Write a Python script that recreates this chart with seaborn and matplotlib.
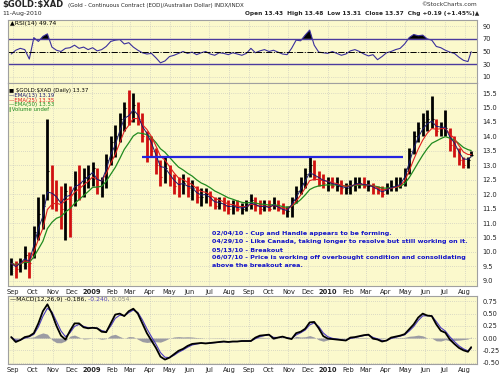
import numpy as np
import pandas as pd
import matplotlib
matplotlib.use("Agg")
import matplotlib.pyplot as plt
import matplotlib.dates as mdates
import seaborn as sns

# --- weekly data (week ending dates, last bar = 11-Aug-2010) ---
week_end = pd.date_range("2008-08-29", periods=103, freq="W-FRI")
week_end = week_end[:-1].append(pd.DatetimeIndex(["2010-08-11"]))

highs = [9.8, 9.7, 9.8, 10.2, 10.0, 10.9, 11.9, 12.0, 14.6, 13.0,
         12.5, 12.3, 12.4, 12.3, 12.8, 13.0, 12.9, 13.0, 13.1, 12.9,
         12.6, 13.4, 14.0, 14.4, 14.8, 15.2, 15.6, 15.5, 15.2, 14.8,
         14.2, 14.0, 13.6, 13.2, 13.3, 13.0, 12.7, 12.6, 12.7, 12.6,
         12.5, 12.3, 12.2, 12.2, 12.1, 11.9, 11.9, 11.9, 11.8, 11.8,
         11.8, 11.7, 11.8, 12.0, 11.9, 11.8, 11.8, 11.8, 11.9, 11.8,
         11.7, 11.6, 11.9, 12.3, 12.6, 12.9, 13.3, 13.2, 12.8, 12.7,
         12.6, 12.6, 12.6, 12.5, 12.4, 12.5, 12.6, 12.6, 12.6, 12.5,
         12.4, 12.3, 12.3, 12.4, 12.5, 12.6, 12.6, 12.9, 13.6, 14.2,
         14.5, 14.8, 14.9, 15.4, 14.6, 14.5, 14.9, 14.3, 14.0, 13.6,
         13.3, 13.3, 13.48]
lows = [9.2, 9.1, 9.3, 9.4, 9.1, 9.8, 10.4, 10.8, 11.8, 11.5,
        11.4, 10.8, 10.4, 10.5, 11.6, 11.8, 11.9, 12.2, 12.3, 12.0,
        11.9, 12.2, 13.0, 13.3, 13.8, 14.2, 14.4, 14.5, 14.4, 13.8,
        13.1, 13.3, 12.7, 12.3, 12.4, 12.3, 12.0, 11.9, 12.0, 11.9,
        11.8, 11.7, 11.6, 11.7, 11.6, 11.5, 11.5, 11.4, 11.3, 11.3,
        11.4, 11.3, 11.4, 11.5, 11.4, 11.3, 11.4, 11.4, 11.5, 11.4,
        11.3, 11.2, 11.2, 11.7, 12.0, 12.2, 12.6, 12.5, 12.3, 12.2,
        12.1, 12.2, 12.1, 12.0, 12.0, 12.0, 12.1, 12.2, 12.2, 12.1,
        12.0, 12.0, 11.9, 12.0, 12.1, 12.1, 12.2, 12.3, 12.7, 13.4,
        13.8, 14.0, 14.2, 14.3, 14.0, 14.0, 14.0, 13.5, 13.3, 13.0,
        12.9, 12.9, 13.31]
closes = [9.6, 9.4, 9.7, 9.9, 9.6, 10.7, 11.3, 11.6, 12.8, 12.0,
          11.8, 11.5, 12.1, 12.0, 12.5, 12.4, 12.6, 12.7, 12.9, 12.3,
          12.4, 13.2, 13.8, 14.0, 14.6, 15.0, 14.8, 15.1, 14.6, 14.0,
          13.9, 13.5, 13.0, 12.6, 12.9, 12.5, 12.3, 12.2, 12.4, 12.2,
          12.2, 11.9, 11.9, 12.0, 11.8, 11.6, 11.7, 11.6, 11.5, 11.6,
          11.5, 11.5, 11.6, 11.8, 11.6, 11.5, 11.6, 11.5, 11.7, 11.5,
          11.4, 11.4, 11.8, 12.1, 12.4, 12.7, 13.0, 12.6, 12.5, 12.4,
          12.4, 12.3, 12.3, 12.2, 12.2, 12.3, 12.4, 12.4, 12.3, 12.3,
          12.2, 12.1, 12.0, 12.2, 12.3, 12.3, 12.4, 12.8, 13.5, 14.0,
          14.3, 14.5, 14.6, 14.6, 14.2, 14.3, 14.3, 13.7, 13.6, 13.2,
          13.0, 13.2, 13.37]

rsi_values = [46, 52, 55, 53, 38, 72, 66, 74, 78, 57,
              52, 50, 55, 56, 60, 55, 57, 53, 56, 51,
              53, 58, 66, 68, 69, 62, 64, 57, 52, 48,
              46, 47, 40, 32, 35, 42, 44, 47, 50, 47,
              49, 45, 48, 50, 46, 44, 48, 47, 45, 48,
              46, 44, 47, 55, 48, 51, 53, 50, 52, 49,
              46, 45, 55, 68, 67, 76, 84, 60, 49, 48,
              47, 50, 47, 44, 46, 51, 53, 50, 46, 43,
              45, 37, 42, 48, 50, 53, 55, 62, 72, 77,
              75, 76, 70, 68, 58, 56, 52, 49, 47, 41,
              36, 34, 49.74]

macd_values = [0.02, -0.08, -0.04, 0.02, 0.04, 0.10, 0.30, 0.55, 0.69, 0.50,
               0.25, 0.05, -0.03, 0.15, 0.30, 0.30, 0.22, 0.20, 0.21, 0.20,
               0.13, 0.12, 0.30, 0.48, 0.50, 0.45, 0.55, 0.60, 0.50, 0.30,
               0.10, -0.05, -0.20, -0.38, -0.44, -0.40, -0.33, -0.26, -0.22, -0.16,
               -0.12, -0.11, -0.10, -0.11, -0.10, -0.09, -0.08, -0.07, -0.08, -0.07,
               -0.07, -0.06, -0.06, -0.06, 0.01, 0.05, 0.06, 0.07, -0.01, 0.01,
               0.03, 0.00, -0.02, 0.10, 0.13, 0.19, 0.32, 0.33, 0.20, 0.04,
               -0.01, -0.02, -0.03, -0.04, -0.05, 0.01, 0.02, 0.04, 0.06, 0.07,
               -0.01, -0.03, -0.07, -0.05, 0.01, 0.03, 0.05, 0.08, 0.18, 0.28,
               0.42, 0.50, 0.46, 0.45, 0.28, 0.15, 0.11, -0.03, -0.12, -0.20,
               -0.25, -0.28, -0.186]

breakout_level = 13.28
breakout_start = "2009-03-20"
breakout_end = "2010-04-28"

notes = ["02/04/10 - Cup and Handle appears to be forming.",
         "04/29/10 - Like Canada, taking longer to resolve but still working on it.",
         "05/13/10 - Breakout",
         "06/07/10 - Price is working off overbought condition and consolidating",
         "above the breakout area."]

df = pd.DataFrame({"date": week_end, "high": highs, "low": lows,
                   "close": closes, "rsi": rsi_values, "macd": macd_values})

# daily EMA periods converted to weekly smoothing factors
def weekly_alpha(n):
    return 1 - (1 - 2 / (n + 1)) ** 5

df["ema13"] = df["close"].ewm(alpha=weekly_alpha(13), adjust=False).mean()
df["ema25"] = df["close"].ewm(alpha=weekly_alpha(25), adjust=False).mean()
df["ema50"] = df["close"].ewm(alpha=weekly_alpha(50), adjust=False).mean()
df["signal"] = df["macd"].ewm(alpha=weekly_alpha(9), adjust=False).mean()
df["hist"] = df["macd"] - df["signal"]
df["up"] = df["close"].diff().fillna(0) >= 0

sns.set_style("white")
plt.rcParams["font.family"] = ["DejaVu Sans"]

W, H = 500, 374
fig = plt.figure(figsize=(W / 100, H / 100), dpi=100)


def box(x0, y0, x1, y1):
    return [x0 / W, 1 - y1 / H, (x1 - x0) / W, (y1 - y0) / H]


BG = "#FBF9CC"
XMIN = mdates.date2num(pd.Timestamp("2008-08-24"))
XMAX = mdates.date2num(pd.Timestamp("2010-08-20"))
month_ticks = pd.date_range("2008-09-01", "2010-08-01", freq="MS")
month_labels = [d.strftime("%Y") if d.month == 1 else d.strftime("%b") for d in month_ticks]


def style_panel(ax, ylim, yticks, fmt, xlabels=True):
    ax.set_facecolor(BG)
    ax.set_xlim(XMIN, XMAX)
    ax.set_ylim(*ylim)
    ax.yaxis.tick_right()
    ax.set_yticks(yticks)
    ax.set_yticklabels([fmt.format(v) for v in yticks])
    ax.set_xticks(mdates.date2num(month_ticks))
    if xlabels:
        ax.set_xticklabels(month_labels)
        for lab, d in zip(ax.get_xticklabels(), month_ticks):
            if d.month == 1:
                lab.set_fontweight("bold")
                lab.set_fontsize(5.3)
    else:
        ax.set_xticklabels([])
    ax.grid(True, color="#bdbdbd", linestyle=(0, (1, 2)), linewidth=0.5)
    ax.tick_params(axis="both", length=0, labelsize=4.8, pad=2, colors="#222222")
    ax.tick_params(axis="y", pad=4)
    for s in ax.spines.values():
        s.set_color("#a0a0a0")
        s.set_linewidth(0.8)
    ax.set_xlabel("")
    ax.set_ylabel("")


# --- RSI panel ---
ax_rsi = fig.add_axes(box(8, 20, 477, 83))
ax_rsi.fill_between(df["date"], 70, df["rsi"], where=df["rsi"] > 70,
                    interpolate=True, color="black", lw=0)
sns.lineplot(data=df, x="date", y="rsi", ax=ax_rsi, color="#3a2f9c", lw=0.8)
ax_rsi.axhline(70, color="#4b3b9e", lw=1.0)
ax_rsi.axhline(30, color="#4b3b9e", lw=1.0)
ax_rsi.axhline(50, color="black", lw=0.7, ls="-.")
style_panel(ax_rsi, (0, 100), [10, 30, 50, 70, 90], "{:.0f}", xlabels=False)
ax_rsi.text(0.004, 0.985, "\u25b2RSI(14) 49.74", transform=ax_rsi.transAxes,
            fontsize=4.4, va="top", ha="left", color="black")

# --- price panel ---
ax_p = fig.add_axes(box(8, 83, 477, 286))
bar_colors = np.where(df["up"], "black", "#d01010")
ax_p.vlines(df["date"], df["low"], df["high"], colors=bar_colors, lw=2.0)
ax_p.hlines(df["close"], df["date"], df["date"] + pd.Timedelta(days=3),
            colors=bar_colors, lw=0.8)
sns.lineplot(data=df, x="date", y="ema50", ax=ax_p, color="#1f8a1f", lw=0.9)
sns.lineplot(data=df, x="date", y="ema25", ax=ax_p, color="#e02020", lw=0.8)
sns.lineplot(data=df, x="date", y="ema13", ax=ax_p, color="#1a1a70", lw=0.7)
ax_p.hlines(breakout_level, mdates.date2num(pd.Timestamp(breakout_start)),
            mdates.date2num(pd.Timestamp(breakout_end)), color="#2424e0", lw=1.6)
style_panel(ax_p, (8.82, 15.85), np.arange(9.0, 15.6, 0.5), "{:.1f}")

legend_rows = [("\u25a0 \\$GOLD:\\$XAD (Daily) 13.37", "black"),
               ("\u2014EMA(13) 13.19", "#1a1a70"),
               ("\u2014EMA(25) 13.35", "#e02020"),
               ("\u2014EMA(50) 13.53", "#1f8a1f"),
               ("\u2225Volume undef", "#1f8a1f")]
for k, (txt, col) in enumerate(legend_rows):
    fig.text(9 / W, 1 - (88 + k * 4.8) / H, txt, fontsize=3.9, color=col,
             va="top", ha="left")

for k, line in enumerate(notes):
    fig.text(212 / W, 1 - (231 + k * 8.1) / H, line, fontsize=4.6,
             color="#1414c8", fontweight="bold", va="top", ha="left")

# --- MACD panel ---
ax_m = fig.add_axes(box(8, 296, 477, 364))
ax_m.fill_between(df["date"], 0, df["hist"], color="#8c8c9c", lw=0, alpha=0.85)
sns.lineplot(data=df, x="date", y="signal", ax=ax_m, color="#4b3bbf", lw=0.8)
sns.lineplot(data=df, x="date", y="macd", ax=ax_m, color="black", lw=1.3)
style_panel(ax_m, (-0.53, 0.86), [-0.5, -0.25, 0.0, 0.25, 0.5, 0.75], "{:.2f}")
t1 = ax_m.text(0.004, 0.985, "\u2014MACD(12,26,9) -0.186,", transform=ax_m.transAxes,
               fontsize=4.4, va="top", ha="left", color="black")
t2 = ax_m.annotate(" -0.240,", xy=(1, 0), xycoords=t1, va="bottom", ha="left",
                   fontsize=4.4, color="#4b3bbf")
ax_m.annotate(" 0.054", xy=(1, 0), xycoords=t2, va="bottom", ha="left",
              fontsize=4.4, color="#888888")

# --- header ---
fig.text(2 / W, 1 - 0.5 / H, "\\$GOLD:\\$XAD", fontsize=6, fontweight="bold",
         va="top", ha="left")
fig.text(68 / W, 1 - 3 / H, "(Gold - Continuous Contract (EOD)/Australian Dollar) INDX/INDX",
         fontsize=4.0, va="top", ha="left")
fig.text(2 / W, 1 - 11.5 / H, "11-Aug-2010", fontsize=4.4, va="top", ha="left")
fig.text(477 / W, 1 - 1.5 / H, "\u00a9StockCharts.com", fontsize=4.2, va="top",
         ha="right", color="#333333")
fig.text(479 / W, 1 - 11 / H,
         "Open 13.43  High 13.48  Low 13.31  Close 13.37  Chg +0.19 (+1.45%)\u25b2",
         fontsize=4.2, va="top", ha="right", fontweight="bold")

fig.savefig("out.png", dpi=100, facecolor="white")
